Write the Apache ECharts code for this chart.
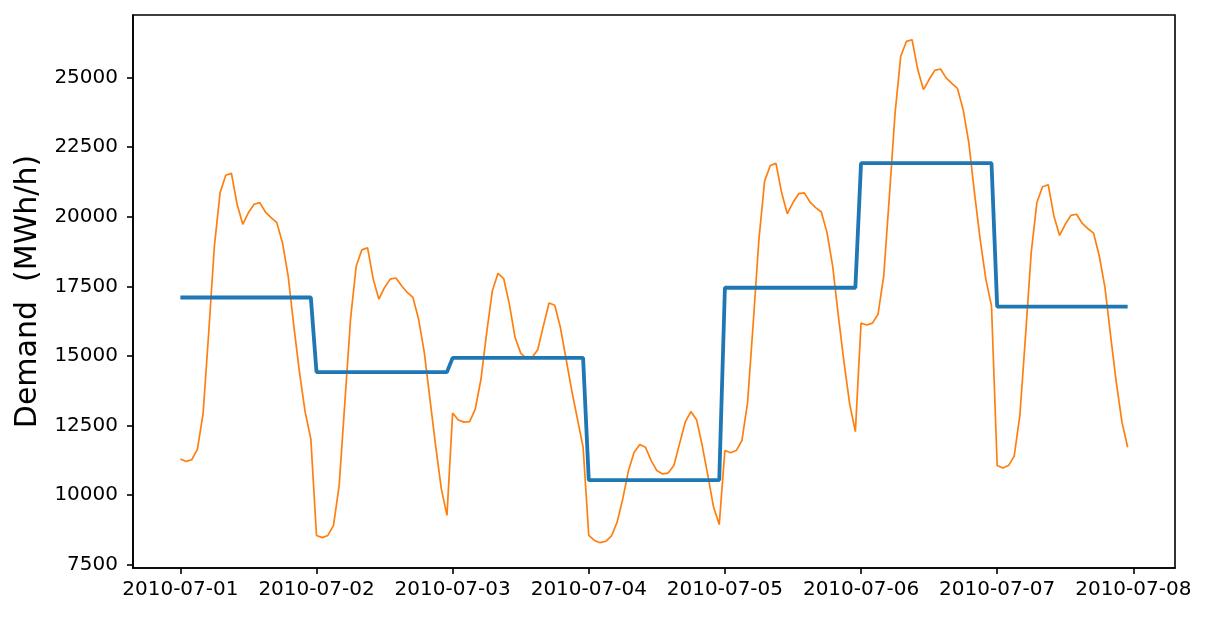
<!DOCTYPE html>
<html>
<head>
<meta charset="utf-8">
<script src="https://cdn.jsdelivr.net/npm/echarts@6/dist/echarts.min.js"></script>
<style>
  html, body { margin: 0; padding: 0; background: #fff; }
  #chart { width: 1209px; height: 620px; }
</style>
</head>
<body>
<div id="chart"></div>
<script>
// hourly demand, one array per day (MWh/h)
const day1 = [11300, 11210, 11270, 11640, 12920, 15840, 18950, 20860, 21490, 21560, 20450, 19730,
  20150, 20450, 20510, 20170, 19970, 19790, 19070, 17880, 16080, 14410, 12980, 12020];
const day2 = [8550, 8470, 8550, 8910, 10350, 13330, 16320, 18230, 18810, 18890, 17760, 17040,
  17460, 17760, 17800, 17520, 17280, 17100, 16320, 15130, 13450, 11780, 10230, 9270];
const day3 = [12950, 12700, 12620, 12640, 13100, 14170, 15840, 17340, 17970, 17780, 16860, 15670,
  15100, 14910, 14940, 15220, 16080, 16900, 16820, 16020, 14890, 13750, 12740, 11720];
const day4 = [8550, 8370, 8290, 8340, 8530, 9030, 9870, 10880, 11540, 11820, 11720, 11240,
  10880, 10760, 10790, 11060, 11840, 12620, 13000, 12710, 11780, 10700, 9570, 8940];
const day5 = [11600, 11520, 11600, 11960, 13330, 16200, 19190, 21280, 21840, 21920, 20860, 20110,
  20510, 20830, 20860, 20530, 20330, 20170, 19430, 18230, 16440, 14770, 13270, 12280];
const day6 = [16180, 16110, 16180, 16500, 17880, 20750, 23730, 25770, 26300, 26360, 25290, 24570,
  24930, 25260, 25310, 24990, 24790, 24610, 23850, 22660, 20860, 19190, 17760, 16800];
const day7 = [11060, 10970, 11060, 11400, 12860, 15720, 18710, 20510, 21080, 21150, 20030, 19330,
  19730, 20050, 20090, 19760, 19570, 19410, 18590, 17460, 15720, 14050, 12620, 11720];

// daily mean demand
const dailyMean = [17100, 14420, 14930, 10540, 17450, 21930, 16770];

const dateLabels = ['2010-07-01', '2010-07-02', '2010-07-03', '2010-07-04',
  '2010-07-05', '2010-07-06', '2010-07-07', '2010-07-08'];
const yTicks = [7500, 10000, 12500, 15000, 17500, 20000, 22500, 25000];

const days = [day1, day2, day3, day4, day5, day6, day7];
const hourly = [];
const means = [];
days.forEach((d, i) => {
  d.forEach((v, h) => {
    hourly.push([i * 24 + h, v]);
    means.push([i * 24 + h, dailyMean[i]]);
  });
});

const font = 'DejaVu Sans';
const xTicks = dateLabels.map((_, i) => i * 24);
const chart = echarts.init(document.getElementById('chart'));
chart.setOption({
  animation: false,
  grid: {
    left: 133, right: 34, top: 15, bottom: 52,
    show: true, borderColor: '#000', borderWidth: 1.6, backgroundColor: 'transparent',
  },
  xAxis: {
    type: 'value',
    min: -8.35,
    max: 175.35,
    splitLine: { show: false },
    axisLine: { onZero: false, lineStyle: { color: '#000', width: 1.6 } },
    axisTick: { length: 6, lineStyle: { color: '#000', width: 1.6 }, customValues: xTicks },
    axisLabel: {
      customValues: xTicks,
      formatter: (v) => dateLabels[Math.round(v / 24)],
      color: '#000', fontFamily: font, fontSize: 20, margin: 12,
    },
  },
  yAxis: {
    type: 'value',
    min: 7380,
    max: 27250,
    name: 'Demand  (MWh/h)',
    nameLocation: 'middle',
    nameRotate: 90,
    nameGap: 84,
    nameTextStyle: { color: '#000', fontFamily: font, fontSize: 30 },
    splitLine: { show: false },
    axisLine: { show: true, onZero: false, lineStyle: { color: '#000', width: 1.6 } },
    axisTick: { show: true, length: 6, lineStyle: { color: '#000', width: 1.6 }, customValues: yTicks },
    axisLabel: {
      customValues: yTicks,
      formatter: (v) => String(v),
      color: '#000', fontFamily: font, fontSize: 20, margin: 15,
    },
  },
  series: [
    {
      type: 'line',
      data: hourly,
      showSymbol: false,
      lineStyle: { color: '#ff7f0e', width: 1.7 },
      z: 2,
    },
    {
      type: 'line',
      data: means,
      showSymbol: false,
      lineStyle: { color: '#1f77b4', width: 3.8 },
      z: 3,
    },
  ],
});
</script>
</body>
</html>
